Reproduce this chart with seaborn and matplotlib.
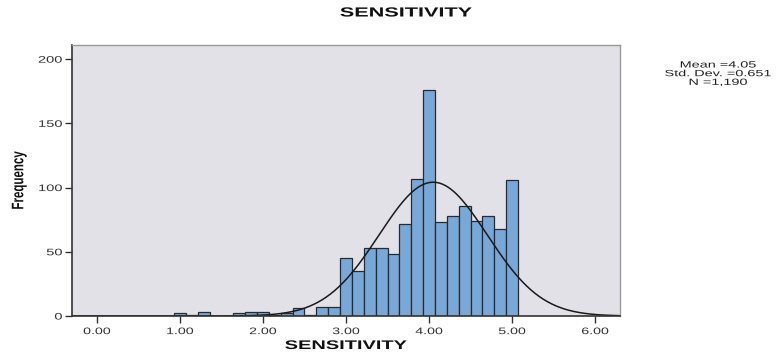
import numpy as np
import pandas as pd
import matplotlib
matplotlib.use("Agg")
import matplotlib.pyplot as plt
import seaborn as sns
from matplotlib.patheffects import AbstractPathEffect
from matplotlib.transforms import Affine2D

# Bin centres (scores are averages of 7 items -> step 1/7) and frequencies
centers = [1.0, 1 + 1/7, 1 + 2/7, 1 + 5/7, 1 + 6/7, 2.0, 2 + 1/7, 2 + 2/7, 2 + 3/7,
           2 + 4/7, 2 + 5/7, 2 + 6/7, 3.0, 3 + 1/7, 3 + 2/7, 3 + 3/7, 3 + 4/7, 3 + 5/7,
           3 + 6/7, 4.0, 4 + 1/7, 4 + 2/7, 4 + 3/7, 4 + 4/7, 4 + 5/7, 4 + 6/7, 5.0]
counts = [2, 1, 3, 2, 3, 3, 1, 2, 6, 1, 7, 7, 45, 35, 53, 53, 48, 72, 107, 176,
          73, 78, 86, 74, 78, 68, 106]
mean_val = 4.05
sd_val = 0.651
n_val = 1190
x_ticks = [0, 1, 2, 3, 4, 5, 6]
y_ticks = [0, 50, 100, 150, 200]


class HStretch(AbstractPathEffect):
    """Widen rendered text horizontally (the reference image is stretched)."""
    def __init__(self, sx, anchor="center"):
        super().__init__((0, 0))
        self.sx = sx
        self.anchor = anchor

    def draw_path(self, renderer, gc, tpath, affine, rgbFace=None):
        bb = tpath.get_extents(affine)
        if self.anchor == "right":
            cx = bb.x1
        elif self.anchor == "left":
            cx = bb.x0
        else:
            cx = 0.5 * (bb.x0 + bb.x1)
        t = affine + Affine2D().translate(-cx, 0).scale(self.sx, 1).translate(cx, 0)
        renderer.draw_path(gc, tpath, t, rgbFace)


df = pd.DataFrame({"SENSITIVITY": centers, "count": counts})
bw = 1 / 7

sns.set_theme(style="white")
plt.rcParams["font.family"] = ["Liberation Sans", "DejaVu Sans"]

fig = plt.figure(figsize=(7.76, 3.57), dpi=100)
ax = fig.add_axes([72 / 776, 1 - 316 / 357, (620 - 72) / 776, (316 - 45) / 357])
ax.set_facecolor("#E2E1E7")

sns.histplot(data=df, x="SENSITIVITY", weights="count", binwidth=bw,
             binrange=(1 - bw / 2, 5 + bw / 2), ax=ax,
             color="#78A8D8", alpha=1.0, edgecolor="#2A2A2A", linewidth=0.9)

xs = np.linspace(-0.3, 6.3, 400)
ys = n_val * bw / (sd_val * np.sqrt(2 * np.pi)) * np.exp(-0.5 * ((xs - mean_val) / sd_val) ** 2)
sns.lineplot(x=xs, y=ys, ax=ax, color="#1A1A1A", linewidth=1.1)

ax.set_xlim(-0.3, 6.3)
ax.set_ylim(0, 211)
ax.set_xticks(x_ticks)
ax.set_xticklabels([f"{t:.2f}" for t in x_ticks])
ax.set_yticks(y_ticks)
ax.tick_params(axis="both", direction="out", length=5, width=1, colors="#333333",
               labelsize=6.8, bottom=True, left=True)
ax.tick_params(axis="x", pad=3)
ax.tick_params(axis="y", pad=2)
for lab in ax.get_xticklabels():
    lab.set_path_effects([HStretch(1.5, "center")])
for lab in ax.get_yticklabels():
    lab.set_path_effects([HStretch(1.55, "right")])

for s in ["left", "bottom"]:
    ax.spines[s].set_color("#333333")
    ax.spines[s].set_linewidth(1.2)
for s in ["top", "right"]:
    ax.spines[s].set_color("#9A9A9A")
    ax.spines[s].set_linewidth(1.0)

ax.set_xlabel("SENSITIVITY", fontsize=9, fontweight="bold", color="#111111",
              path_effects=[HStretch(1.6, "center")])
ax.xaxis.set_label_coords(0.5, -(346 - 316) / (316 - 45), transform=ax.transAxes)
ax.xaxis.label.set_va("center")
ax.set_ylabel("Frequency", fontsize=8.3, fontweight="bold", color="#111111",
              path_effects=[HStretch(1.45, "center")])
ax.yaxis.set_label_coords(-(72 - 19) / (620 - 72), 0.5, transform=ax.transAxes)
ax.yaxis.label.set_va("center")

fig.text(406 / 776, 1 - 13.5 / 357, "SENSITIVITY", ha="center", va="center",
         fontsize=9.5, fontweight="bold", color="#111111",
         path_effects=[HStretch(1.64, "center")])

stats_lines = [f"Mean ={mean_val:.2f}", f"Std. Dev. ={sd_val:.3f}", f"N ={n_val:,}"]
for i, line in enumerate(stats_lines):
    fig.text(718 / 776, 1 - (65 + 8.7 * i) / 357, line, ha="center", va="center",
             fontsize=6.5, color="#222222", path_effects=[HStretch(1.6, "center")])

fig.savefig("out.png", dpi=100)
